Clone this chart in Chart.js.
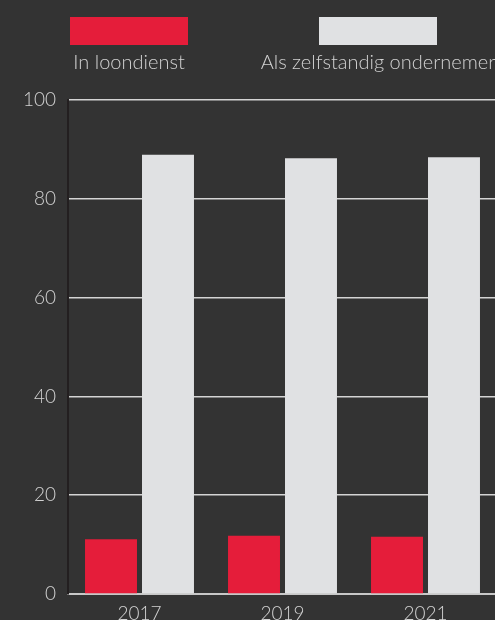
<!DOCTYPE html>
<html>
<head>
<meta charset="utf-8">
<script src="https://cdn.jsdelivr.net/npm/chart.js@4"></script>
<style>
  html, body { margin: 0; padding: 0; background: #333333; overflow: hidden; }
  #wrap { width: 497px; height: 620px; }
</style>
</head>
<body>
<div id="wrap"><canvas id="chart"></canvas></div>
<script>
// ── data ──
const YEARS = ['2017', '2019', '2021'];
const LOONDIENST = [11.1, 11.8, 11.6];
const ZELFSTANDIG = [88.9, 88.2, 88.4];
const Y_TICKS = [0, 20, 40, 60, 80, 100];

const RED = '#e51d3a';
const LIGHT = '#e0e1e3';
const TEXT = '#d2d2d2';
const FONT = "Lato, 'Open Sans', sans-serif";

// legend drawn above the plot: box with label centred underneath
const topLegend = {
    id: 'topLegend',
    afterDraw(chart) {
        const ctx = chart.ctx;
        ctx.save();
        chart.data.datasets.forEach((ds, i) => {
            const x = 70 + i * 249;
            ctx.fillStyle = ds.backgroundColor;
            ctx.fillRect(x, 17, 118, 28);
            ctx.fillStyle = TEXT;
            ctx.font = '300 20px ' + FONT;
            ctx.textAlign = 'center';
            ctx.textBaseline = 'middle';
            ctx.fillText(ds.label, x + 59, 63);
        });
        ctx.restore();
    }
};

new Chart(document.getElementById('chart'), {
    type: 'bar',
    data: {
        labels: YEARS,
        datasets: [
            { label: 'In loondienst', data: LOONDIENST, backgroundColor: RED },
            { label: 'Als zelfstandig ondernemer', data: ZELFSTANDIG, backgroundColor: LIGHT },
        ]
    },
    options: {
        responsive: true,
        maintainAspectRatio: false,
        animation: false,
        categoryPercentage: 0.797,
        barPercentage: 0.912,
        layout: { padding: { top: 100, left: 0, right: 0, bottom: 0 } },
        plugins: {
            legend: { display: false },
            tooltip: { enabled: false }
        },
        scales: {
            x: {
                afterFit(scale) { scale.height = 26; },
                grid: { display: false, drawTicks: false },
                border: { color: '#c8c8c8', width: 2 },
                ticks: {
                    color: TEXT,
                    padding: 8,
                    font: { family: FONT, size: 19, weight: '300' }
                }
            },
            y: {
                min: 0,
                max: 100,
                afterFit(scale) { scale.width = 68; },
                afterBuildTicks(scale) { scale.ticks = Y_TICKS.map(v => ({ value: v })); },
                grid: { color: '#d4d4d4', lineWidth: 1.5, drawTicks: false },
                border: { color: '#231f20', width: 2 },
                ticks: {
                    color: TEXT,
                    padding: 12,
                    font: { family: FONT, size: 19, weight: '300' }
                }
            }
        }
    },
    plugins: [topLegend]
});
</script>
</body>
</html>
